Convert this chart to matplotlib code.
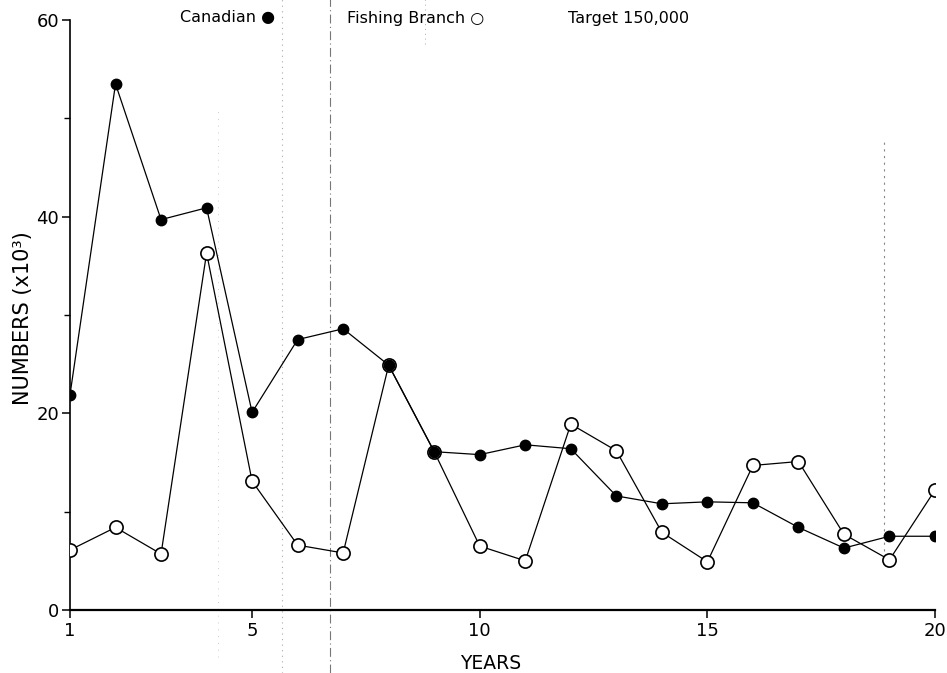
import matplotlib
matplotlib.use("Agg")
import matplotlib.pyplot as plt
from matplotlib.ticker import FixedLocator

years = list(range(1, 21))
canadian = [21.9, 53.5, 39.7, 40.9, 20.1, 27.5, 28.6, 24.9, 16.1, 15.8,
            16.8, 16.4, 11.6, 10.8, 11.0, 10.9, 8.4, 6.3, 7.5, 7.5]
fishing_branch = [6.1, 8.4, 5.7, 36.3, 13.1, 6.6, 5.8, 24.9, 16.1, 6.5,
                  5.0, 18.9, 16.2, 7.9, 4.9, 14.7, 15.1, 7.7, 5.1, 12.2]
x_ticks = [1, 5, 10, 15, 20]
y_ticks = [0, 20, 40, 60]
y_minor = [10, 30, 50]
dashdot_year = [6.71]
dotted_years = [5.66, 18.89, 4.25, 8.8]

plt.rcParams['font.family'] = ['DejaVu Sans']

fig = plt.figure(figsize=(9.47, 6.73), dpi=100)
ax = fig.add_axes([70/947, 63/673, 865/947, 590/673])

for xv in dashdot_year:
    ax.axvline(xv, ymin=-0.107, ymax=1.035, color='#777777', lw=0.8,
               ls=(0, (8, 3, 1, 3)), clip_on=False, zorder=0)
ax.axvline(dotted_years[0], ymin=-0.107, ymax=1.035, color='#aaaaaa', lw=0.8,
           ls=(0, (1, 4)), clip_on=False, zorder=0)
ax.axvline(dotted_years[1], ymin=0.1, ymax=0.8, color='#888888', lw=0.8,
           ls=(0, (2, 4)), clip_on=False, zorder=0)
ax.axvline(dotted_years[2], ymin=-0.08, ymax=0.85, color='#cccccc', lw=0.7,
           ls=(0, (1, 6)), clip_on=False, zorder=0)
ax.axvline(dotted_years[3], ymin=0.96, ymax=1.035, color='#aaaaaa', lw=0.7,
           ls=(0, (1, 4)), clip_on=False, zorder=0)

ax.plot(years, fishing_branch, color='black', lw=0.9, marker='o', ms=9.5,
        mfc='white', mec='black', mew=1.2, zorder=3)
ax.plot(years, canadian, color='black', lw=0.9, marker='o', ms=7.5,
        mfc='black', mec='black', zorder=4)

ax.set_xlim(1, 20)
ax.set_ylim(0, 60)
ax.spines['top'].set_visible(False)
ax.spines['right'].set_visible(False)
ax.spines['left'].set_linewidth(1.2)
ax.spines['bottom'].set_linewidth(1.6)

ax.set_xticks(x_ticks)
ax.set_xticklabels([str(v) for v in x_ticks])
ax.set_yticks(y_ticks)
ax.set_yticklabels([str(v) for v in y_ticks])
ax.yaxis.set_minor_locator(FixedLocator(y_minor))
ax.tick_params(axis='both', which='major', direction='out', length=6,
               width=1.1, labelsize=13, pad=3)
ax.tick_params(axis='y', which='minor', direction='out', length=4, width=1.0)
ax.tick_params(axis='y', which='major', pad=2)

ax.set_xlabel('YEARS', fontsize=13.5)
ax.xaxis.set_label_coords(0.486, -0.074)
ax.set_ylabel('NUMBERS (x10³)', fontsize=15, va='center')
ax.yaxis.set_label_coords(-0.054, 0.495)

ty = 1 - 18/673
fig.text(180/947, ty, 'Canadian ●', fontsize=11.5, va='center', ha='left')
fig.text(347/947, ty, 'Fishing Branch ○', fontsize=11.5, va='center', ha='left')
fig.text(568/947, ty, 'Target 150,000', fontsize=11.5, va='center', ha='left')

fig.savefig('out.png', dpi=100)
